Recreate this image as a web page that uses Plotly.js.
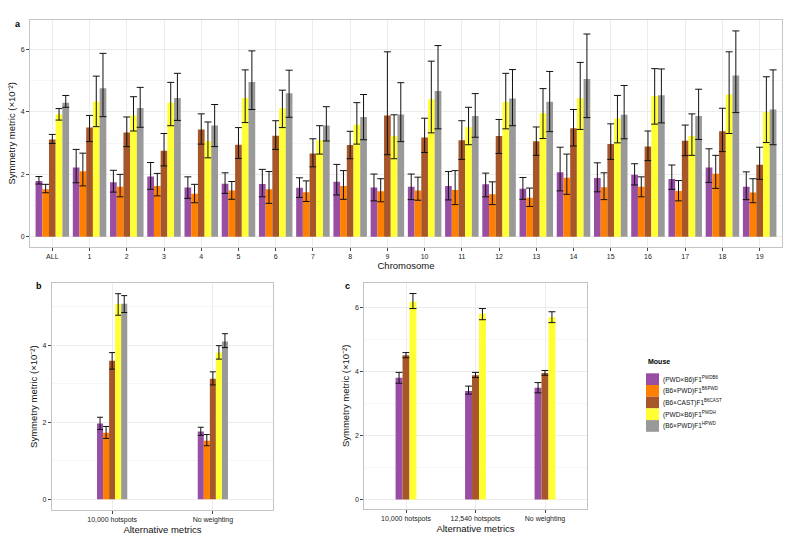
<!DOCTYPE html>
<html>
<head>
<meta charset="utf-8">
<script src="https://cdn.plot.ly/plotly-3.0.1.min.js"></script>
<style>html,body{margin:0;padding:0;background:#fff;}#chart{width:800px;height:538px;}</style>
</head>
<body>
<div id="chart"></div>
<script>
// ---------- Data ----------
const chromosomes = ['ALL','1','2','3','4','5','6','7','8','9','10','11','12','13','14','15','16','17','18','19'];
const strainNames = ['(PWD×B6)F1<sup>PWDB6</sup>','(B6×PWD)F1<sup>B6PWD</sup>','(B6×CAST)F1<sup>B6CAST</sup>','(PWD×B6)F1<sup>PWDH</sup>','(B6×PWD)F1<sup>HPWD</sup>'];
const strainColors = ['#984EA3','#FF7F00','#A65628','#FFFF33','#999999'];

// Panel a: symmetry metric per chromosome (value, upper error, lower error)
const aPWDB6      = [1.79,2.22,1.75,1.93,1.58,1.70,1.69,1.57,1.76,1.58,1.60,1.63,1.68,1.54,2.07,1.88,1.99,1.85,2.22,1.60];
const aPWDB6Up    = [0.14,0.58,0.38,0.45,0.34,0.35,0.47,0.32,0.56,0.43,0.41,0.46,0.36,0.36,0.80,0.49,0.35,0.45,0.60,0.48];
const aPWDB6Lo    = [0.10,0.49,0.32,0.41,0.35,0.31,0.41,0.31,0.42,0.43,0.41,0.45,0.40,0.34,0.60,0.44,0.33,0.33,0.48,0.41];
const aB6PWD      = [1.52,2.10,1.60,1.63,1.38,1.48,1.52,1.43,1.63,1.46,1.48,1.50,1.36,1.25,1.89,1.59,1.60,1.47,2.02,1.42];
const aB6PWDUp    = [0.16,0.58,0.40,0.40,0.30,0.29,0.57,0.36,0.49,0.40,0.43,0.62,0.40,0.31,0.76,0.46,0.32,0.33,0.59,0.44];
const aB6PWDLo    = [0.11,0.47,0.32,0.32,0.29,0.28,0.45,0.30,0.43,0.34,0.31,0.47,0.33,0.28,0.53,0.40,0.32,0.32,0.47,0.33];
const aB6CAST     = [3.12,3.50,3.34,2.76,3.44,2.95,3.24,2.67,2.94,3.89,3.18,3.09,3.23,3.06,3.48,2.97,2.89,3.08,3.38,2.31];
const aB6CASTUp   = [0.16,0.39,0.50,0.55,0.50,0.55,0.48,0.47,0.44,2.04,0.62,0.63,0.53,0.46,0.60,0.65,0.50,0.50,0.74,0.56];
const aB6CASTLo   = [0.13,0.45,0.45,0.49,0.47,0.44,0.44,0.43,0.44,1.26,0.48,0.61,0.56,0.45,0.57,0.49,0.45,0.48,0.65,0.47];
const aPWDH       = [3.93,4.33,3.89,4.30,3.06,4.45,4.12,3.09,3.59,3.23,4.41,3.51,4.32,3.96,4.44,3.79,4.51,3.23,4.56,4.00];
const aPWDHUp     = [0.18,0.82,0.60,0.65,0.62,0.90,0.58,0.47,0.71,0.68,1.22,0.64,0.92,0.79,1.15,0.74,0.88,0.71,1.37,1.13];
const aPWDHLo     = [0.19,0.80,0.50,0.74,0.53,0.79,0.62,0.44,0.62,0.73,1.08,0.56,0.86,0.81,1.00,0.78,0.90,0.62,1.25,0.98];
const aHPWD       = [4.30,4.76,4.13,4.45,3.57,4.96,4.60,3.57,3.84,3.92,4.67,3.87,4.43,4.33,5.06,3.91,4.54,3.87,5.17,4.08];
const aHPWDUp     = [0.23,1.12,0.66,0.79,0.67,1.00,0.74,0.60,0.72,1.02,1.46,0.72,0.93,0.97,1.44,0.94,0.84,0.86,1.43,1.27];
const aHPWDLo     = [0.15,0.91,0.62,0.72,0.68,0.88,0.77,0.50,0.73,0.87,1.21,0.68,0.87,0.96,1.24,0.77,0.89,0.75,1.19,1.13];

// Panel b: alternative metrics, all five strains
const bMetrics   = ['10,000 hotspots','No weighting'];
const bPWDB6     = [1.97,1.76]; const bPWDB6Up  = [0.16,0.11]; const bPWDB6Lo  = [0.16,0.10];
const bB6PWD     = [1.73,1.52]; const bB6PWDUp  = [0.16,0.16]; const bB6PWDLo  = [0.15,0.13];
const bB6CAST    = [3.60,3.13]; const bB6CASTUp = [0.21,0.18]; const bB6CASTLo = [0.22,0.16];
const bPWDH      = [5.07,3.81]; const bPWDHUp   = [0.27,0.18]; const bPWDHLo   = [0.29,0.17];
const bHPWD      = [5.08,4.10]; const bHPWDUp   = [0.21,0.20]; const bHPWDLo   = [0.23,0.16];

// Panel c: alternative metrics, three strains
const cMetrics   = ['10,000 hotspots','12,540 hotspots','No weighting'];
const cPWDB6     = [3.81,3.40,3.50]; const cPWDB6Up  = [0.17,0.15,0.16]; const cPWDB6Lo  = [0.17,0.10,0.16];
const cB6CAST    = [4.52,3.89,3.96]; const cB6CASTUp = [0.08,0.09,0.08]; const cB6CASTLo = [0.08,0.07,0.07];
const cPWDH      = [6.19,5.82,5.71]; const cPWDHUp   = [0.26,0.16,0.17]; const cPWDHLo   = [0.21,0.19,0.17];

const yTitle = 'Symmetry metric (×10⁻²)';

// ---------- Traces ----------
const FONT = 'Liberation Sans, Arial, sans-serif';
const traces = [];
function addGroup(xcats, series, colorIdx, groupWidth, xa, ya, capw) {
  const n = series.length;
  const w = groupWidth / n;
  series.forEach((s, i) => {
    traces.push({
      type: 'bar', x: xcats, y: s[0],
      xaxis: xa, yaxis: ya,
      width: w, offset: -groupWidth / 2 + i * w,
      marker: {color: strainColors[colorIdx[i]], line: {width: 0}},
      error_y: {type: 'data', symmetric: false, array: s[1], arrayminus: s[2],
                color: '#111', thickness: 1, width: capw},
      showlegend: false, hoverinfo: 'x+y'
    });
  });
}
addGroup(chromosomes, [[aPWDB6,aPWDB6Up,aPWDB6Lo],[aB6PWD,aB6PWDUp,aB6PWDLo],[aB6CAST,aB6CASTUp,aB6CASTLo],[aPWDH,aPWDHUp,aPWDHLo],[aHPWD,aHPWDUp,aHPWDLo]],
         [0,1,2,3,4], 0.9, 'x', 'y', 3.5);
addGroup(bMetrics, [[bPWDB6,bPWDB6Up,bPWDB6Lo],[bB6PWD,bB6PWDUp,bB6PWDLo],[bB6CAST,bB6CASTUp,bB6CASTLo],[bPWDH,bPWDHUp,bPWDHLo],[bHPWD,bHPWDUp,bHPWDLo]],
         [0,1,2,3,4], 0.3, 'x2', 'y2', 3);
addGroup(cMetrics, [[cPWDB6,cPWDB6Up,cPWDB6Lo],[cB6CAST,cB6CASTUp,cB6CASTLo],[cPWDH,cPWDHUp,cPWDHLo]],
         [0,2,3], 0.3, 'x3', 'y3', 3.5);

// ---------- Layout ----------
const W = 800, H = 538;
const px = v => v / W, py = v => 1 - v / H;

function xAxis(dom, ncat, title, standoff) {
  return {
    domain: dom, type: 'category', range: [-0.6, ncat - 0.4],
    showline: true, mirror: true, linecolor: '#c4c4c4', linewidth: 1,
    showgrid: true, gridcolor: '#ececec', gridwidth: 1,
    ticks: 'outside', ticklen: 3, tickcolor: '#444', tickwidth: 1,
    tickfont: {family: FONT, size: 7, color: '#222'},
    title: {text: title, font: {family: FONT, size: 9.5, color: '#111'}, standoff: standoff},
    zeroline: false, fixedrange: true
  };
}
function yAxis(dom, range, standoff) {
  return {
    domain: dom, range: range, tick0: 0, dtick: 2,
    showline: true, mirror: true, linecolor: '#c4c4c4', linewidth: 1,
    showgrid: true, gridcolor: '#ececec', gridwidth: 1,
    minor: {dtick: 1, tick0: 0, showgrid: true, gridcolor: '#f6f6f6', gridwidth: 1, ticklen: 0},
    ticks: 'outside', ticklen: 3, tickcolor: '#444', tickwidth: 1,
    tickfont: {family: FONT, size: 7, color: '#222'},
    title: {text: yTitle, font: {family: FONT, size: 9.5, color: '#111'}, standoff: standoff},
    zeroline: false, fixedrange: true
  };
}

const annotations = [
  {text: '<b>a</b>', x: px(13), y: py(17), xref: 'paper', yref: 'paper', showarrow: false, font: {family: FONT, size: 9, color: '#000'}},
  {text: '<b>b</b>', x: px(34), y: py(286), xref: 'paper', yref: 'paper', showarrow: false, font: {family: FONT, size: 9, color: '#000'}},
  {text: '<b>c</b>', x: px(347), y: py(286), xref: 'paper', yref: 'paper', showarrow: false, font: {family: FONT, size: 9, color: '#000'}},
  {text: '<b>Mouse</b>', x: px(646), y: py(367), xref: 'paper', yref: 'paper', xanchor: 'left', showarrow: false, font: {family: FONT, size: 7, color: '#000'}}
];
const shapes = [];
const legTop = 373.3, legRow = 11.7;
strainNames.forEach((name, i) => {
  shapes.push({type: 'rect', xref: 'paper', yref: 'paper', x0: px(646), x1: px(659),
    y0: py(legTop + legRow * (i + 1)), y1: py(legTop + legRow * i),
    fillcolor: strainColors[i], line: {width: 0}});
  annotations.push({text: name, x: px(661), y: py(legTop + legRow * (i + 0.5)), xref: 'paper', yref: 'paper',
    xanchor: 'left', yanchor: 'middle', showarrow: false, font: {family: FONT, size: 6.5, color: '#111'}});
});

const layout = {
  width: W, height: H, autosize: false,
  margin: {l: 0, r: 0, t: 0, b: 0},
  paper_bgcolor: '#fff', plot_bgcolor: '#fff',
  barmode: 'overlay', showlegend: false,
  font: {family: FONT},
  xaxis:  Object.assign(xAxis([px(30), px(782)], chromosomes.length, 'Chromosome', 1), {anchor: 'y'}),
  yaxis:  Object.assign(yAxis([py(246.7), py(20)], [-0.32, 6.95], 3), {anchor: 'x'}),
  xaxis2: Object.assign(xAxis([px(51.7), px(273.3)], bMetrics.length, 'Alternative metrics', 2), {anchor: 'y2'}),
  yaxis2: Object.assign(yAxis([py(510), py(283.3)], [-0.28, 5.61], 3), {anchor: 'x2'}),
  xaxis3: Object.assign(xAxis([px(364.3), px(586.7)], cMetrics.length, 'Alternative metrics', 2), {anchor: 'y3'}),
  yaxis3: Object.assign(yAxis([py(509), py(282.7)], [-0.3, 6.79], 3), {anchor: 'x3'}),
  annotations: annotations, shapes: shapes
};

Plotly.newPlot('chart', traces, layout, {staticPlot: true, displayModeBar: false});
</script>
</body>
</html>
